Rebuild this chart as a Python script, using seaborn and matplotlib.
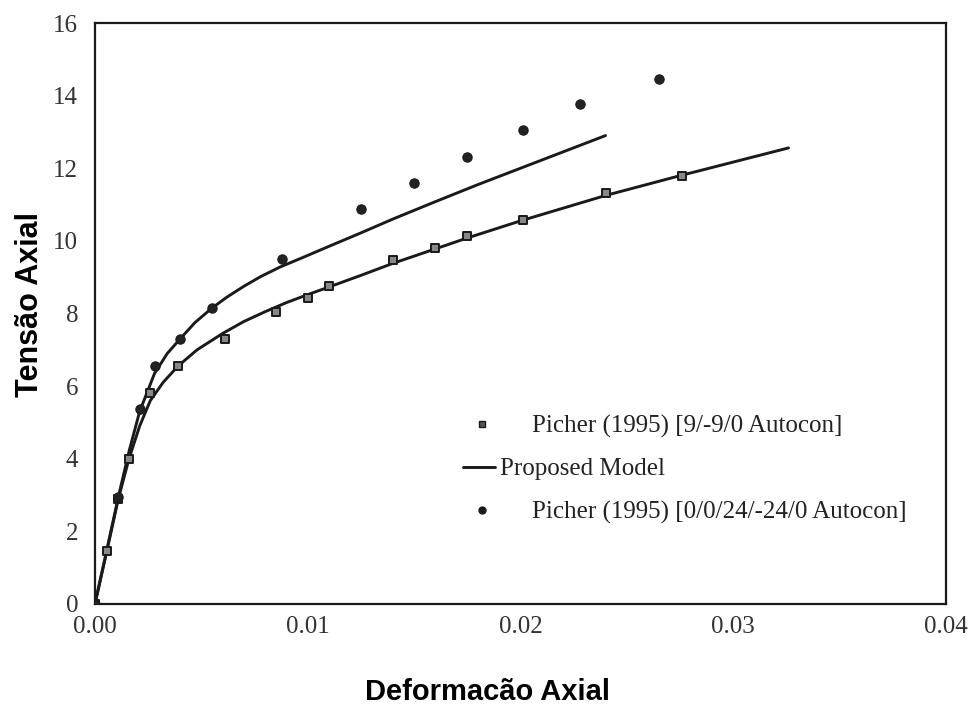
import pandas as pd
import matplotlib.pyplot as plt
import seaborn as sns
from matplotlib.lines import Line2D

# Data
# Picher (1995) [9/-9/0 Autocon] - square markers
sq_x = [0.0, 0.00056, 0.0011, 0.0016, 0.0026, 0.0039, 0.0061, 0.0085, 0.0100, 0.0110,
        0.0140, 0.0160, 0.0175, 0.0201, 0.0240, 0.0276]
sq_y = [0.0, 1.46, 2.9, 4.0, 5.8, 6.55, 7.3, 8.05, 8.43, 8.76,
        9.48, 9.8, 10.14, 10.58, 11.32, 11.8]

# Picher (1995) [0/0/24/-24/0 Autocon] - round markers
ci_x = [0.0, 0.0011, 0.0021, 0.0028, 0.0040, 0.0055, 0.0088, 0.0125, 0.0150,
        0.0175, 0.0201, 0.0228, 0.0265]
ci_y = [0.0, 2.95, 5.37, 6.55, 7.3, 8.15, 9.5, 10.88, 11.6,
        12.3, 13.05, 13.77, 14.46]

# Proposed Model - upper curve
mu_x = [0.0, 0.00056, 0.0011, 0.0016, 0.0021, 0.0028, 0.0034, 0.0040, 0.0047, 0.0055,
        0.0062, 0.0070, 0.0078, 0.0087, 0.0098, 0.0110, 0.0125, 0.0140, 0.0160, 0.0180,
        0.0200, 0.0220, 0.0240]
mu_y = [0.0, 1.5, 2.95, 4.2, 5.3, 6.35, 6.9, 7.3, 7.75, 8.15,
        8.45, 8.75, 9.02, 9.28, 9.55, 9.85, 10.22, 10.6, 11.08, 11.55,
        12.0, 12.45, 12.9]

# Proposed Model - lower curve
ml_x = [0.0, 0.00056, 0.0011, 0.0016, 0.0021, 0.0026, 0.0032, 0.0039, 0.0048, 0.0060,
        0.0070, 0.0080, 0.0090, 0.0100, 0.0110, 0.0125, 0.0140, 0.0160, 0.0175, 0.0200,
        0.0240, 0.0274, 0.0326]
ml_y = [0.0, 1.46, 2.9, 4.0, 4.9, 5.6, 6.1, 6.55, 7.0, 7.45,
        7.78, 8.05, 8.3, 8.52, 8.73, 9.05, 9.38, 9.78, 10.08, 10.55,
        11.25, 11.78, 12.56]

x_ticks = [0.0, 0.01, 0.02, 0.03, 0.04]
y_ticks = [0, 2, 4, 6, 8, 10, 12, 14, 16]

sns.set_style('white')
plt.rcParams['font.family'] = ['Liberation Serif', 'DejaVu Serif']

fig = plt.figure(figsize=(9.72, 7.10), dpi=100)
ax = fig.add_axes([0.0977, 0.1493, 0.8755, 0.8183])

ink = '#1a1a1a'

# model curves
sns.lineplot(x=mu_x, y=mu_y, sort=False, color=ink, linewidth=2.1, ax=ax)
sns.lineplot(x=ml_x, y=ml_y, sort=False, color=ink, linewidth=2.1, ax=ax)

# experimental points
sns.scatterplot(x=sq_x, y=sq_y, marker='s', s=26, color='#888888',
                edgecolor=ink, linewidth=1.4, ax=ax, zorder=3)
sns.scatterplot(x=ci_x, y=ci_y, marker='o', s=45, color='#222222',
                edgecolor=ink, linewidth=0.8, ax=ax, zorder=3)

ax.set_xlim(0, 0.04)
ax.set_ylim(0, 16)
ax.set_xticks(x_ticks)
ax.set_xticklabels([f'{v:.2f}' for v in x_ticks])
ax.set_yticks(y_ticks)
ax.set_yticklabels([str(v) for v in y_ticks])
ax.tick_params(axis='both', length=0, labelsize=18, colors='#333333')
ax.tick_params(axis='x', pad=9)
ax.tick_params(axis='y', pad=12)

for side in ['top', 'right', 'bottom', 'left']:
    ax.spines[side].set_color(ink)
    ax.spines[side].set_linewidth(1.6)

ax.set_xlabel('Deformacão Axial', fontsize=21, fontweight='bold', color='black',
              family=['Liberation Sans', 'DejaVu Sans'])
ax.set_ylabel('Tensão Axial', fontsize=22, fontweight='bold', color='black',
              family=['Liberation Sans', 'DejaVu Sans'])
ax.xaxis.set_label_coords(0.4618, -0.127)
ax.yaxis.set_label_coords(-0.0588, 0.515)

# legend: marker entries (text aligned further right) ...
blank = Line2D([], [], linestyle='none')
marker_handles = [
    Line2D([], [], linestyle='none', marker='s', markersize=5,
           markerfacecolor='#555555', markeredgecolor=ink),
    blank,
    Line2D([], [], linestyle='none', marker='o', markersize=5,
           markerfacecolor=ink, markeredgecolor=ink),
]
marker_labels = ['Picher (1995) [9/-9/0 Autocon]', ' ',
                 'Picher (1995) [0/0/24/-24/0 Autocon]']
leg1 = ax.legend(marker_handles, marker_labels, loc='upper left',
                 bbox_to_anchor=(0.436, 0.3253), frameon=False, fontsize=18,
                 handlelength=1.3, handletextpad=1.35, labelspacing=0.8,
                 labelcolor='#222222', borderpad=0, borderaxespad=0)
ax.add_artist(leg1)

# ... and the model line entry
line_handles = [Line2D([], [], color=ink, linewidth=2.1)]
ax.legend(line_handles, ['Proposed Model'], loc='upper left',
          bbox_to_anchor=(0.4324, 0.2513), frameon=False, fontsize=18,
          handlelength=1.3, handletextpad=0.2, labelcolor='#222222',
          borderpad=0, borderaxespad=0)

fig.savefig('out.png', dpi=100)
